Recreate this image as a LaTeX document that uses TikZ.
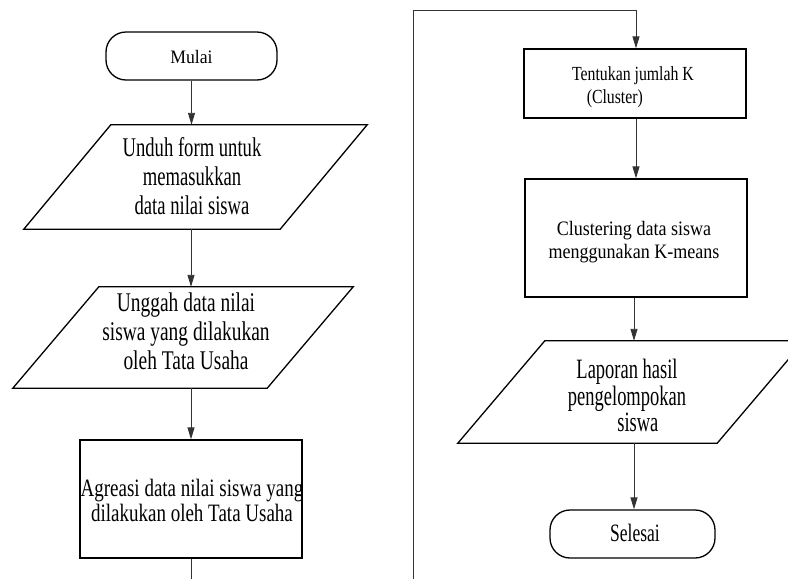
\documentclass[tikz,border=0pt]{standalone}
\usepackage{fontspec}
\setmainfont{Liberation Serif}
\usepackage{graphicx}
\usetikzlibrary{arrows.meta}
\newcommand{\ftxt}[4]{\scalebox{#1}[1]{\fontsize{#2}{#3}\selectfont\begin{tabular}{@{}c@{}}#4\end{tabular}}}
\begin{document}
\begin{tikzpicture}[x=1pt,y=-1pt,
  shp/.style={draw=black,line width=1.3pt},
  boxnode/.style={shp,rectangle,inner sep=0pt},
  termnode/.style={shp,rectangle,rounded corners=20pt,inner sep=0pt},
  ghost/.style={rectangle,draw=none,inner sep=0pt},
  txt/.style={inner sep=0pt},
  conn/.style={draw=black!80,line width=0.9pt},
  arr/.style={conn,-{Triangle[length=12pt,width=7pt]}}]

\useasboundingbox (0,0) rectangle (788,579);
\clip (0,0) rectangle (788,579);

% ---------- left column ----------
\node[termnode,minimum width=171pt,minimum height=48pt] (mulai) at (191.5,56) {};
\node[txt] (tmulai) at (191.5,59) {\ftxt{0.93}{19}{21}{Mulai}};

\node[ghost,minimum width=256pt,minimum height=104pt] (p1) at (195.5,177) {};
\draw[shp] ([xshift=43.5pt]p1.north west) -- ([xshift=43.5pt]p1.north east)
  -- ([xshift=-43.5pt]p1.south east) -- ([xshift=-43.5pt]p1.south west) -- cycle;
\node[txt] (t1) at (192,179.5) {\ftxt{0.69}{27}{29}{Unduh form untuk\\memasukkan\\data nilai siswa}};

\node[ghost,minimum width=254pt,minimum height=101pt] (p2) at (183,337.5) {};
\draw[shp] ([xshift=43pt]p2.north west) -- ([xshift=43pt]p2.north east)
  -- ([xshift=-43pt]p2.south east) -- ([xshift=-43pt]p2.south west) -- cycle;
\node[txt] (t2) at (186,334.5) {\ftxt{0.72}{27}{29}{Unggah data nilai\\siswa yang dilakukan\\oleh Tata Usaha}};

\node[boxnode,minimum width=222pt,minimum height=118pt] (agg) at (191,499) {};
\node[txt] (tagg) at (192,504) {\ftxt{0.76}{25}{25}{Agreasi data nilai siswa yang\\dilakukan oleh Tata Usaha}};

% ---------- right column ----------
\node[boxnode,minimum width=222pt,minimum height=69pt] (tent) at (635,83.5) {};
\node[txt] (ttent) at (633,87) {\ftxt{0.79}{20}{23}{Tentukan jumlah K\\\hspace*{-46pt}(Cluster)}};

\node[boxnode,minimum width=222pt,minimum height=118pt] (clus) at (636,238) {};
\node[txt] (tclus) at (634,242) {\ftxt{0.88}{20.5}{23}{Clustering data siswa\\menggunakan K-means}};

\node[ghost,minimum width=259pt,minimum height=102pt] (lap) at (631,392) {};
\draw[shp] ([xshift=43.5pt]lap.north west) -- ([xshift=43.5pt]lap.north east)
  -- ([xshift=-43.5pt]lap.south east) -- ([xshift=-43.5pt]lap.south west) -- cycle;
\node[txt] (t3) at (627,399) {\ftxt{0.66}{28}{26}{Laporan hasil\\pengelompokan\\\hspace*{33pt}siswa}};

\node[termnode,minimum width=165pt,minimum height=48pt] (sel) at (632.5,534) {};
\node[txt] (tsel) at (635,536.5) {\ftxt{0.7}{25}{27}{Selesai}};

% ---------- connectors ----------
\draw[arr] (mulai.south) -- (mulai.south |- p1.north);
\draw[arr] (p1.south -| agg.north) -- (p2.north -| agg.north);
\draw[arr] (p2.south -| agg.north) -- (agg.north);
\coordinate (cutL) at (191,579);
\draw[conn] (agg.south) -- (cutL);

\coordinate (cutR) at (413,579);
\coordinate (topL) at (413,10);
\draw[arr] (cutR) -- (topL) -| ([xshift=1pt]tent.north);
\draw[arr] ([xshift=1pt]tent.south) -- ([xshift=1pt]tent.south |- clus.north);
\draw[arr] ([xshift=-2pt]clus.south) -- ([xshift=-2pt]clus.south |- lap.north);
\draw[arr] ([xshift=1.5pt]lap.south -| sel.north) -- ([xshift=1.5pt]sel.north);
\end{tikzpicture}
\end{document}
